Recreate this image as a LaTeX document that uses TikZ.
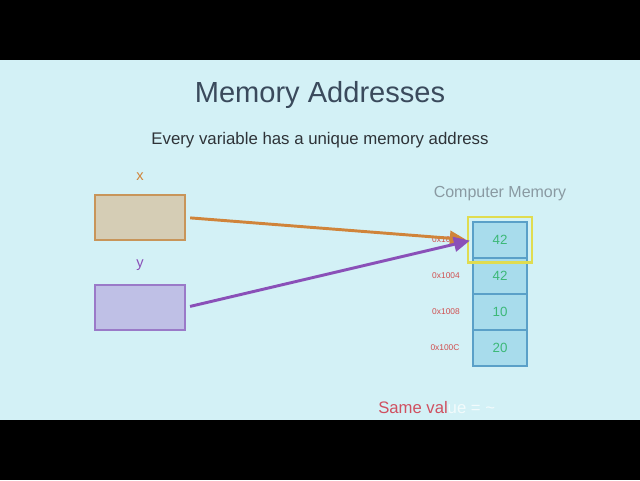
\documentclass[tikz,border=0pt]{standalone}
\usepackage{fontspec}
\setmainfont{Liberation Sans}
\usetikzlibrary{arrows.meta}
\definecolor{bgc}{HTML}{D3F1F6}
\definecolor{titlec}{HTML}{3A4A5C}
\definecolor{subc}{HTML}{2E3338}
\definecolor{xcol}{HTML}{D0843A}
\definecolor{ycol}{HTML}{8A50B8}
\definecolor{xfill}{HTML}{D5CDB5}
\definecolor{xdraw}{HTML}{C8955A}
\definecolor{yfill}{HTML}{BFC0E6}
\definecolor{ydraw}{HTML}{9A7AC8}
\definecolor{cellfill}{HTML}{A8DCEC}
\definecolor{celldraw}{HTML}{5AA0C8}
\definecolor{numc}{HTML}{3CB878}
\definecolor{addrc}{HTML}{D05050}
\definecolor{memc}{HTML}{8A9AA2}
\definecolor{hilite}{HTML}{E0DC50}
\definecolor{samec}{HTML}{D05060}
\tikzset{
  varbox/.style={minimum width=67.5pt, minimum height=33.75pt, line width=0.8pt, inner sep=0pt},
  cell/.style={draw=celldraw, fill=cellfill, minimum width=40.5pt, minimum height=27pt, inner sep=0pt, line width=0.8pt, text=numc, font=\fontsize{10}{10}\selectfont},
  addr/.style={text=addrc, font=\fontsize{6.3}{6.3}\selectfont, inner sep=0pt},
  ptr/.style={line width=2.2pt, -{Triangle[length=12pt,width=11pt]}},
}
\begin{document}
\begin{tikzpicture}[x=0.75pt,y=-0.75pt]
\useasboundingbox (0,0) rectangle (640,480);
\fill[black] (0,0) rectangle (640,60);
\fill[black] (0,420) rectangle (640,480);
\fill[bgc] (0,60) rectangle (640,420);
\node[text=titlec, font=\fontsize{21.8}{22}\selectfont] (title) at (320,95) {Memory Addresses};
\node[text=subc, font=\fontsize{12.6}{13}\selectfont] (sub) at (320,140) {Every variable has a unique memory address};
\node[text=xcol, font=\fontsize{11}{11}\selectfont] (xl) at (140,177) {x};
\node[text=ycol, font=\fontsize{11}{11}\selectfont] (yl) at (140,265) {y};
\node[varbox, draw=xdraw, fill=xfill] (xbox) at (140,217.5) {};
\node[varbox, draw=ydraw, fill=yfill] (ybox) at (140,307.5) {};
\node[text=memc, font=\fontsize{12}{12}\selectfont] (mem) at (500,194) {Computer Memory};
\node[cell] (c1) at (500,240) {42};
\node[cell] (c2) at (500,276) {42};
\node[cell] (c3) at (500,312) {10};
\node[cell] (c4) at (500,348) {20};
\node[addr] (a1) at (446,240) {0x1000};
\node[addr] (a2) at (446,276) {0x1004};
\node[addr] (a3) at (446,312) {0x1008};
\node[addr] (a4) at (445,348) {0x100C};
\node[draw=hilite, line width=2pt, minimum width=48pt, minimum height=34pt, inner sep=0pt] (hl) at (500,239.5) {};
\draw[ptr, xcol, shorten <=3.5pt, shorten >=5pt] (xbox.east) -- (c1.west);
\draw[ptr, ycol, shorten <=3.5pt, shorten >=2pt] (ybox.east) -- (c1.west);
\node[anchor=west, inner sep=0pt, font=\fontsize{12.5}{12.5}\selectfont] (same) at (378,408) {\textcolor{samec}{Same val}\textcolor{white!70!bgc}{ue = \textasciitilde}};
\end{tikzpicture}
\end{document}
